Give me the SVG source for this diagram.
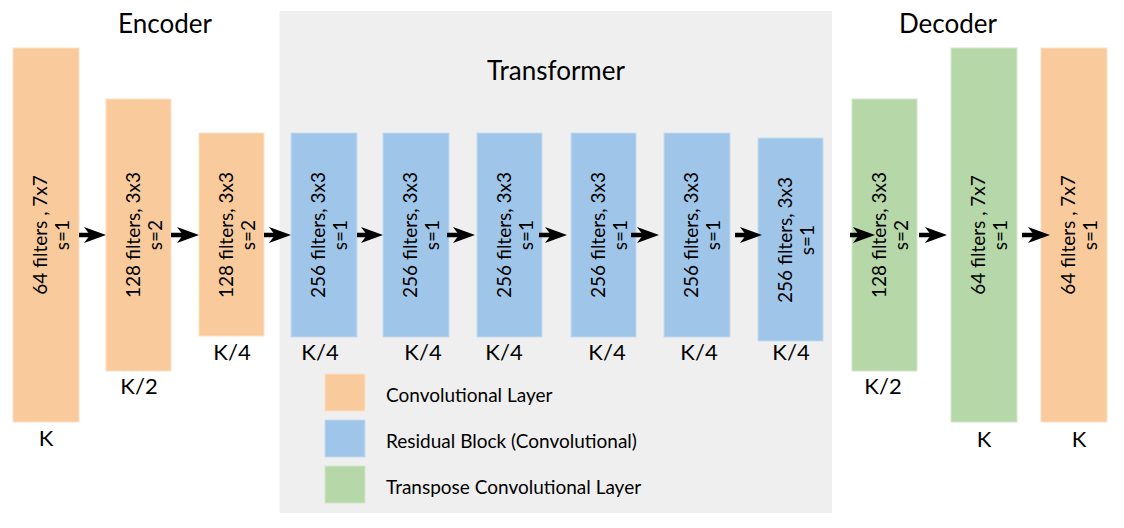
<svg xmlns="http://www.w3.org/2000/svg" width="1124" height="528" viewBox="0 0 1124 528">
<style>
text{font-family:Lato,"Noto Sans","Liberation Sans",sans-serif;fill:#000}
.title{font-size:26px;text-anchor:middle}
.dim{font-size:22px;text-anchor:middle}
.lbl{font-size:19px;text-anchor:middle}
.leg{font-size:19px}
.conv{fill:#F9CB9C;stroke:#FCE0C4;stroke-width:1}
.res{fill:#9FC5E8;stroke:#C4DBF0;stroke-width:1}
.tconv{fill:#B6D7A8;stroke:#D3E7CB;stroke-width:1}
.arr{stroke:#000;stroke-width:4.5;fill:none;marker-end:url(#ah)}
</style>
<defs>
<marker id="ah" markerUnits="userSpaceOnUse" viewBox="0 0 22 16" refX="10" refY="8" markerWidth="22" markerHeight="16" orient="auto">
<path d="M0,0 L22,8 L0,16 L6,8 Z" fill="#000"/>
</marker>
</defs>
<rect x="0" y="0" width="1124" height="528" fill="#fff"/>
<rect id="transformer-bg" x="279.5" y="11" width="552.5" height="502" fill="#EFEFEF"/>
<text class="title" x="165" y="33">Encoder</text>
<text class="title" x="948" y="33">Decoder</text>
<text class="title" x="556" y="80">Transformer</text>

<g id="enc1">
<rect class="conv" x="13" y="48" width="66" height="374"/>
<g transform="translate(46.5,235) rotate(-90)"><text class="lbl" x="0" y="0">64 filters , 7x7</text><text class="lbl" x="0" y="22.5">s=1</text></g>
<text class="dim" x="46" y="446">K</text>
</g>
<g id="enc2">
<rect class="conv" x="106" y="99" width="65" height="272"/>
<g transform="translate(139.5,235) rotate(-90)"><text class="lbl" x="0" y="0">128 filters, 3x3</text><text class="lbl" x="0" y="22.5">s=2</text></g>
<text class="dim" x="139" y="394">K/2</text>
</g>
<g id="enc3">
<rect class="conv" x="199" y="133" width="65" height="203"/>
<g transform="translate(232.5,235) rotate(-90)"><text class="lbl" x="0" y="0">128 filters, 3x3</text><text class="lbl" x="0" y="22.5">s=2</text></g>
<text class="dim" x="232" y="360">K/4</text>
</g>
<g id="res1">
<rect class="res" x="291" y="133" width="66" height="204"/>
<g transform="translate(324.5,235) rotate(-90)"><text class="lbl" x="0" y="0">256 filters, 3x3</text><text class="lbl" x="0" y="22.5">s=1</text></g>
<text class="dim" x="320" y="360">K/4</text>
</g>
<g id="res2">
<rect class="res" x="383" y="133" width="66" height="204"/>
<g transform="translate(416.5,235) rotate(-90)"><text class="lbl" x="0" y="0">256 filters, 3x3</text><text class="lbl" x="0" y="22.5">s=1</text></g>
<text class="dim" x="423" y="360">K/4</text>
</g>
<g id="res3">
<rect class="res" x="477" y="133" width="65" height="204"/>
<g transform="translate(510.5,235) rotate(-90)"><text class="lbl" x="0" y="0">256 filters, 3x3</text><text class="lbl" x="0" y="22.5">s=1</text></g>
<text class="dim" x="504" y="360">K/4</text>
</g>
<g id="res4">
<rect class="res" x="571" y="133" width="65" height="204"/>
<g transform="translate(604.5,235) rotate(-90)"><text class="lbl" x="0" y="0">256 filters, 3x3</text><text class="lbl" x="0" y="22.5">s=1</text></g>
<text class="dim" x="607" y="360">K/4</text>
</g>
<g id="res5">
<rect class="res" x="664" y="133" width="66" height="204"/>
<g transform="translate(697.5,235) rotate(-90)"><text class="lbl" x="0" y="0">256 filters, 3x3</text><text class="lbl" x="0" y="22.5">s=1</text></g>
<text class="dim" x="699" y="360">K/4</text>
</g>
<g id="res6">
<rect class="res" x="758" y="138" width="65" height="203"/>
<g transform="translate(791.5,240) rotate(-90)"><text class="lbl" x="0" y="0">256 filters, 3x3</text><text class="lbl" x="0" y="22.5">s=1</text></g>
<text class="dim" x="791" y="360">K/4</text>
</g>
<g id="dec1">
<rect class="tconv" x="852" y="99" width="65" height="272"/>
<g transform="translate(885.5,235) rotate(-90)"><text class="lbl" x="0" y="0">128 filters, 3x3</text><text class="lbl" x="0" y="22.5">s=2</text></g>
<text class="dim" x="883" y="394">K/2</text>
</g>
<g id="dec2">
<rect class="tconv" x="951" y="48" width="66" height="374"/>
<g transform="translate(984.5,235) rotate(-90)"><text class="lbl" x="0" y="0">64 filters , 7x7</text><text class="lbl" x="0" y="22.5">s=1</text></g>
<text class="dim" x="984" y="447">K</text>
</g>
<g id="out">
<rect class="conv" x="1041" y="48" width="66" height="374"/>
<g transform="translate(1074.5,235) rotate(-90)"><text class="lbl" x="0" y="0">64 filters , 7x7</text><text class="lbl" x="0" y="22.5">s=1</text></g>
<text class="dim" x="1079" y="447">K</text>
</g>

<g id="connectors">
<line class="arr" x1="79" y1="235" x2="94" y2="235"/>
<line class="arr" x1="171" y1="235" x2="187" y2="235"/>
<line class="arr" x1="264" y1="235" x2="279" y2="235"/>
<line class="arr" x1="357" y1="235" x2="371" y2="235"/>
<line class="arr" x1="447" y1="235" x2="463" y2="235"/>
<line class="arr" x1="539" y1="235" x2="555" y2="235"/>
<line class="arr" x1="631" y1="235" x2="647" y2="235"/>
<line class="arr" x1="735" y1="235" x2="750" y2="235"/>
<line class="arr" x1="850" y1="235" x2="863" y2="235"/>
<line class="arr" x1="919" y1="235" x2="935" y2="235"/>
<line class="arr" x1="1022" y1="235" x2="1038" y2="235"/>
</g>

<g id="legend">
<rect class="conv" x="325" y="374" width="40" height="37"/>
<text class="leg" x="386" y="402">Convolutional Layer</text>
<rect class="res" x="325" y="420" width="40" height="37"/>
<text class="leg" x="386" y="448">Residual Block (Convolutional)</text>
<rect class="tconv" x="325" y="466" width="40" height="37"/>
<text class="leg" x="386" y="494">Transpose Convolutional Layer</text>
</g>
</svg>
